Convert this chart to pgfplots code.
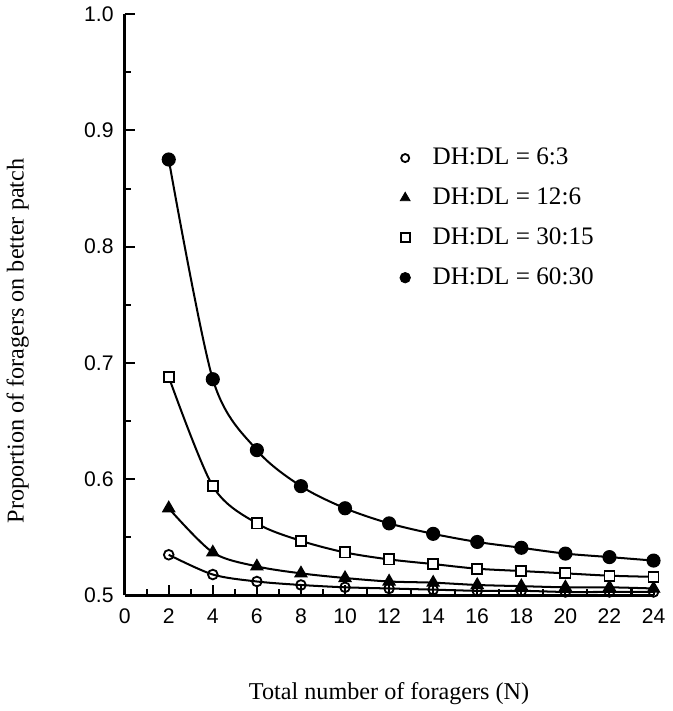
\documentclass[border=0pt]{standalone}
\usepackage{fontspec}
\setmainfont{Liberation Serif}
\newfontfamily\sansf{Liberation Sans}
\usepackage{pgfplots}
\pgfplotsset{compat=1.18}

\pgfplotstableread{
N  a     b     c     d
2  0.535 0.575 0.688 0.875
4  0.518 0.537 0.594 0.686
6  0.512 0.525 0.562 0.625
8  0.509 0.519 0.547 0.594
10 0.507 0.515 0.537 0.575
12 0.506 0.512 0.531 0.562
14 0.505 0.511 0.527 0.553
16 0.504 0.509 0.523 0.546
18 0.504 0.508 0.521 0.541
20 0.503 0.507 0.519 0.536
22 0.503 0.507 0.517 0.533
24 0.503 0.506 0.516 0.530
}\foragers

\begin{document}
\begin{tikzpicture}
\begin{axis}[
 scale only axis,width=262.5pt,height=288.5pt,
 xmin=0,xmax=24,ymin=0.5,ymax=1.0,
 axis lines*=left,axis line style={line width=1.2pt},
 xtick={0,2,...,24},ytick={0.5,0.6,...,1.0},
 minor x tick num=1,minor y tick num=1,
 tick align=inside,major tick length=5pt,minor tick length=3pt,
 every tick/.style={line width=1pt,black},
 yticklabel style={xshift=-2pt,/pgf/number format/.cd,fixed,fixed zerofill,precision=1},
 xticklabel style={yshift=-3pt},
 tick label style={font=\sansf\fontsize{10.5}{12}\selectfont},
 /pgf/number format/assume math mode=true,
 xlabel={Total number of foragers (N)},
 ylabel={Proportion of foragers on better patch},
 label style={font=\fontsize{12}{14}\selectfont},
 xlabel style={at={(axis description cs:0.5,0)},anchor=center,yshift=-48.5pt},
 ylabel style={at={(axis description cs:-0.202,0.438)},anchor=center},
 legend style={draw=none,fill=none,at={(axis cs:12.2,0.892)},anchor=north west,
   font=\fontsize{12.5}{14}\selectfont,row sep=6pt,
   /tikz/every odd column/.append style={column sep=9pt}},
 legend cell align=left,
]
\addlegendimage{only marks,mark=o,mark size=2pt,mark options={line width=0.9pt}}
\addlegendentry{DH:DL = 6:3}
\addlegendimage{only marks,mark=triangle*,mark size=2.8pt}
\addlegendentry{DH:DL = 12:6}
\addlegendimage{only marks,mark=square,mark size=2.2pt,mark options={line width=0.9pt}}
\addlegendentry{DH:DL = 30:15}
\addlegendimage{only marks,mark=*,mark size=2.6pt}
\addlegendentry{DH:DL = 60:30}

\addplot[forget plot,black,line width=1pt,smooth,mark=o,mark size=2.4pt,mark options={fill=white,line width=0.9pt}] table[x=N,y=a] {\foragers};
\addplot[forget plot,black,line width=1pt,smooth,mark=triangle*,mark size=3pt] table[x=N,y=b] {\foragers};
\addplot[forget plot,black,line width=1pt,smooth,mark=square*,mark size=2.5pt,mark options={fill=white,line width=0.9pt}] table[x=N,y=c] {\foragers};
\addplot[forget plot,black,line width=1pt,smooth,mark=*,mark size=3pt] table[x=N,y=d] {\foragers};
\end{axis}
\end{tikzpicture}
\end{document}
